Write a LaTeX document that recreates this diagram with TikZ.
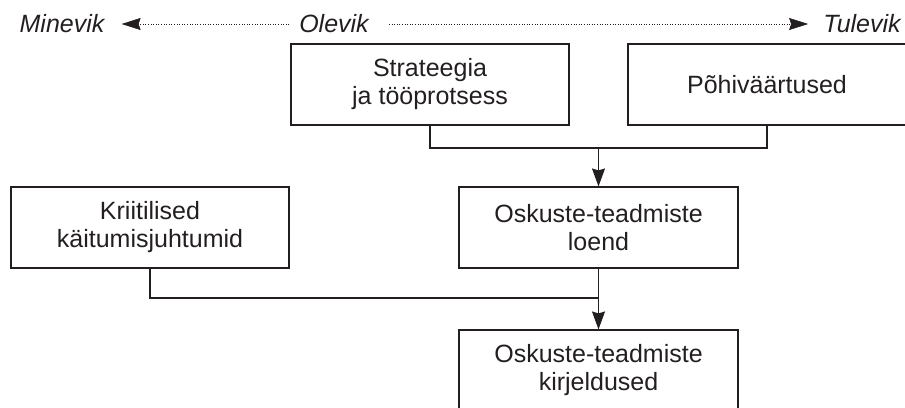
\documentclass[tikz,border=0pt]{standalone}
\usepackage{fontspec}
\setmainfont{Liberation Sans}
\usetikzlibrary{arrows.meta}
\definecolor{ink}{HTML}{231F20}
\begin{document}
\begin{tikzpicture}[x=1pt, y=-1pt, color=ink,
  box/.style={draw, line width=1.1pt, align=center, minimum width=278pt, minimum height=81pt, inner sep=0pt, font=\fontsize{25}{28}\selectfont},
  time/.style={inner sep=0pt, font=\fontsize{25}{28}\selectfont\itshape},
  arrow/.style={-{Stealth[length=18pt, width=13pt, inset=2pt]}, line width=1.1pt},
  dotarrow/.style={-{Stealth[length=19pt, width=12pt, inset=2pt]}, line width=0.6pt, dotted}
]
\useasboundingbox (0,0) rectangle (905,407);
\clip (0,0) rectangle (905,407);
\node[time] (minevik) at (62,24) {Minevik};
\node[time] (olevik) at (334,24) {Olevik};
\node[time] (tulevik) at (862,24) {Tulevik};
\node[box] (strat) at (430,84.5) {Strateegia\\ja tööprotsess};
\node[box] (pohi) at (767,84.5) {Põhiväärtused};
\node[box] (krit) at (150,227.5) {Kriitilised\\käitumisjuhtumid};
\node[box, minimum width=279pt] (loend) at (598.5,227.5) {Oskuste-teadmiste\\loend};
\node[box, minimum width=279pt] (kirj) at (598.5,370.5) {Oskuste-teadmiste\\kirjeldused};
\coordinate (j1) at (598.5,148);
\coordinate (j2) at (598.5,298);
\draw[dotarrow] ([xshift=-10pt]olevik.west) -- ([xshift=17pt]minevik.east);
\draw[dotarrow] ([xshift=20pt]olevik.east) -- ([xshift=-15pt]tulevik.west);
\draw[line width=1.1pt] (strat.south) |- (j1);
\draw[line width=1.1pt] (pohi.south) |- (j1);
\draw[arrow] (j1) -- (loend.north);
\draw[line width=1.1pt] (krit.south) |- (j2);
\draw[line width=1.1pt] (loend.south) -- (j2);
\draw[arrow] (j2) -- (kirj.north);
\end{tikzpicture}
\end{document}
